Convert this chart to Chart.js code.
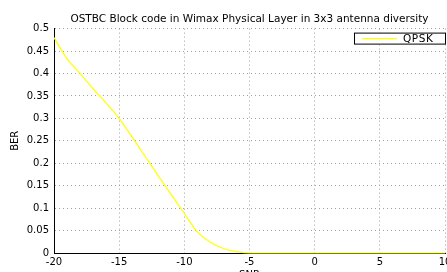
<!DOCTYPE html>
<html>
<head>
<meta charset="utf-8">
<script src="https://cdn.jsdelivr.net/npm/chart.js@4"></script>
<style>
  html, body { margin: 0; padding: 0; background: #fff; }
  #wrap { width: 447px; height: 272px; }
</style>
</head>
<body>
<div id="wrap"><canvas id="c" width="447" height="272"></canvas></div>
<script>
  /* ── Data ── */
  var snr = [-20, -19, -18, -17, -16, -15, -14, -13, -12, -11, -10, -9, -8, -7, -6, -5,
             -4, -3, -2, -1, 0, 1, 2, 3, 4, 5, 6, 7, 8, 9, 10];
  var berQpsk = [0.48, 0.433, 0.400, 0.366, 0.334, 0.300, 0.258, 0.215, 0.172, 0.130, 0.088,
                 0.047, 0.024, 0.010, 0.003, 0,
                 0, 0, 0, 0, 0, 0, 0, 0, 0, 0, 0, 0, 0, 0, 0];
  var seriesLabels = ['QPSK'];
  var xTicks = [-20, -15, -10, -5, 0, 5, 10];
  var yTicks = [0, 0.05, 0.1, 0.15, 0.2, 0.25, 0.3, 0.35, 0.4, 0.45, 0.5];

  var FONT = "'DejaVu Sans', sans-serif";

  /* ── Legend box drawn inside the plot, top right (MATLAB style) ── */
  var insideLegend = {
    id: 'insideLegend',
    afterDraw: function (chart) {
      var ctx = chart.ctx;
      var area = chart.chartArea;
      var ds = chart.data.datasets[0];
      var right = area.right + 1, top = area.top + 4;
      var w = 92, h = 12;
      ctx.save();
      ctx.fillStyle = '#fff';
      ctx.fillRect(right - w, top, w, h);
      ctx.strokeStyle = '#000';
      ctx.lineWidth = 1;
      ctx.strokeRect(right - w + 0.5, top + 0.5, w - 1, h - 1);
      ctx.strokeStyle = ds.borderColor;
      ctx.lineWidth = 1.2;
      ctx.beginPath();
      ctx.moveTo(right - w + 8, top + 6);
      ctx.lineTo(right - w + 43, top + 6);
      ctx.stroke();
      ctx.fillStyle = '#000';
      ctx.font = '10.5px ' + FONT;
      ctx.letterSpacing = '0.6px';
      ctx.textBaseline = 'middle';
      ctx.fillText(ds.label, right - w + 49, top + 6.5);
      ctx.restore();
    }
  };

  new Chart(document.getElementById('c'), {
    type: 'line',
    data: {
      labels: snr,
      datasets: [{
        label: seriesLabels[0],
        data: snr.map(function (x, i) { return { x: x, y: berQpsk[i] }; }),
        borderColor: '#ffff00',
        borderWidth: 1.2,
        pointRadius: 0,
        cubicInterpolationMode: 'monotone',
        fill: false,
        clip: 3
      }]
    },
    options: {
      responsive: false,
      animation: false,
      events: [],
      layout: { padding: { left: 0, right: 2, top: 0, bottom: 0 } },
      plugins: {
        legend: { display: false },
        tooltip: { enabled: false },
        title: {
          display: true,
          fullSize: false,
          text: 'OSTBC Block code in Wimax Physical Layer in 3x3 antenna diversity',
          color: '#000',
          font: { family: FONT, size: 10.5, weight: 'normal' },
          padding: { top: 13, bottom: 3 },
          align: 'center'
        }
      },
      scales: {
        x: {
          type: 'linear',
          min: -20, max: 10,
          afterBuildTicks: function (s) { s.ticks = xTicks.map(function (v) { return { value: v }; }); },
          afterFit: function (s) { s.height = 19; s.paddingRight = 0; s.paddingLeft = 0; },
          ticks: { color: '#000', padding: 3, maxRotation: 0, font: { family: FONT, size: 10 } },
          grid: { color: '#a0a0a0', drawTicks: false, lineWidth: 1 },
          border: { color: '#000', width: 1, dash: [1, 3] },
          title: {
            display: true, text: 'SNR', color: '#000',
            font: { family: FONT, size: 10 }, padding: { top: 0, bottom: -9 }
          }
        },
        y: {
          type: 'linear',
          min: 0, max: 0.5,
          afterBuildTicks: function (s) { s.ticks = yTicks.map(function (v) { return { value: v }; }); },
          afterFit: function (s) { s.width = 54; },
          ticks: {
            color: '#000', padding: 5, font: { family: FONT, size: 10 },
            callback: function (v) { return String(parseFloat(v.toFixed(2))); }
          },
          grid: { color: '#a0a0a0', drawTicks: false, lineWidth: 1 },
          border: { color: '#000', width: 1, dash: [1, 3] },
          title: {
            display: true, text: 'BER', color: '#000',
            font: { family: FONT, size: 10 }, padding: { top: 9, bottom: 0 }
          }
        }
      }
    },
    plugins: [insideLegend]
  });
</script>
</body>
</html>
